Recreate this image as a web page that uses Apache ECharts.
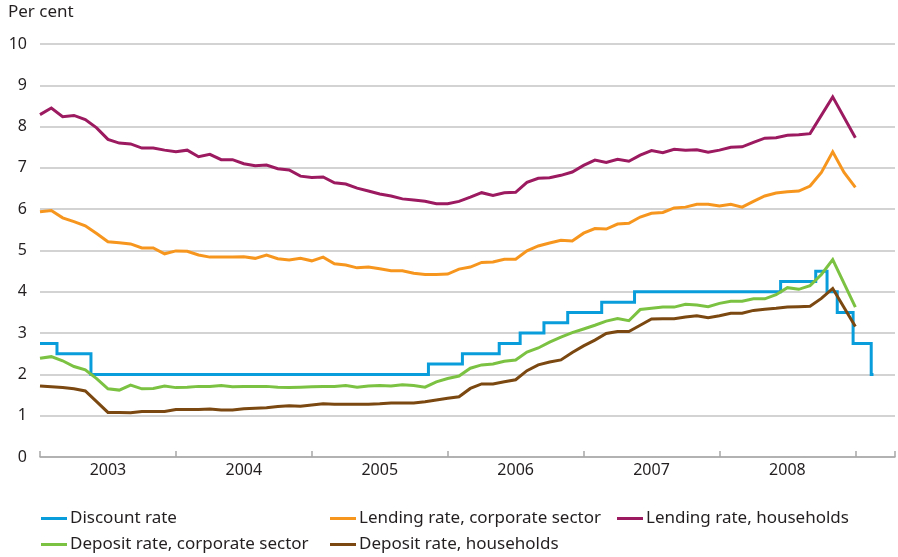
<!DOCTYPE html>
<html>
<head>
<meta charset="utf-8">
<script src="https://cdn.jsdelivr.net/npm/echarts@6/dist/echarts.min.js"></script>
<style>
  html, body { margin: 0; padding: 0; background: #fff; }
  #chart { width: 898px; height: 557px; }
</style>
</head>
<body>
<div id="chart"></div>
<script>
// month index: 0 = Jan 2003, one point per month
const months = Array.from({ length: 73 }, (_, i) => i)

const lendingHouseholds = [
  8.29, 8.45, 8.24, 8.27, 8.17, 7.97, 7.69, 7.60, 7.58, 7.48,
  7.48, 7.43, 7.39, 7.43, 7.27, 7.33, 7.20, 7.20, 7.10, 7.05,
  7.07, 6.98, 6.95, 6.80, 6.77, 6.78, 6.64, 6.61, 6.51, 6.44,
  6.37, 6.32, 6.25, 6.22, 6.19, 6.13, 6.13, 6.19, 6.29, 6.40,
  6.33, 6.40, 6.41, 6.65, 6.75, 6.76, 6.82, 6.90, 7.06, 7.19,
  7.13, 7.21, 7.16, 7.31, 7.42, 7.37, 7.45, 7.43, 7.44, 7.38,
  7.43, 7.50, 7.51, 7.62, 7.72, 7.73, 7.79, 7.80, 7.83, null,
  8.72, null, 7.73
]

const lendingCorporate = [
  5.94, 5.97, 5.79, 5.70, 5.60, 5.41, 5.21, 5.19, 5.16, 5.06,
  5.06, 4.92, 4.99, 4.98, 4.89, 4.84, 4.84, 4.84, 4.85, 4.81,
  4.89, 4.80, 4.77, 4.81, 4.75, 4.84, 4.68, 4.65, 4.58, 4.60,
  4.56, 4.51, 4.51, 4.45, 4.42, 4.42, 4.43, 4.55, 4.60, 4.71,
  4.72, 4.79, 4.79, 4.99, 5.11, 5.18, 5.25, 5.23, 5.42, 5.53,
  5.52, 5.64, 5.66, 5.81, 5.90, 5.92, 6.03, 6.05, 6.12, 6.12,
  6.08, 6.12, 6.05, 6.19, 6.32, 6.39, 6.42, 6.44, 6.56, 6.89,
  7.39, 6.89, 6.53
]

const depositCorporate = [
  2.39, 2.43, 2.33, 2.19, 2.11, 1.90, 1.65, 1.62, 1.74, 1.65,
  1.66, 1.72, 1.68, 1.69, 1.71, 1.71, 1.73, 1.70, 1.71, 1.71,
  1.71, 1.69, 1.68, 1.69, 1.70, 1.71, 1.71, 1.73, 1.69, 1.72,
  1.73, 1.72, 1.75, 1.73, 1.69, 1.82, 1.90, 1.96, 2.15, 2.23,
  2.25, 2.32, 2.35, 2.54, 2.64, 2.78, 2.90, 3.01, 3.10, 3.19,
  3.29, 3.35, 3.30, 3.57, 3.60, 3.63, 3.63, 3.70, 3.68, 3.64,
  3.72, 3.77, 3.77, 3.83, 3.83, 3.93, 4.10, 4.06, 4.15, 4.42,
  4.78, null, 3.63
]

const depositHouseholds = [
  1.72, 1.70, 1.68, 1.65, 1.60, 1.34, 1.08, 1.08, 1.07, 1.10,
  1.10, 1.10, 1.15, 1.15, 1.15, 1.16, 1.14, 1.14, 1.17, 1.18,
  1.19, 1.22, 1.24, 1.23, 1.26, 1.29, 1.28, 1.28, 1.28, 1.28,
  1.29, 1.31, 1.31, 1.31, 1.34, 1.38, 1.42, 1.46, 1.66, 1.77,
  1.77, 1.82, 1.87, 2.09, 2.23, 2.30, 2.35, 2.53, 2.69, 2.83,
  2.99, 3.04, 3.04, 3.19, 3.34, 3.35, 3.35, 3.39, 3.42, 3.37,
  3.42, 3.48, 3.48, 3.55, 3.58, 3.60, 3.63, 3.64, 3.65, 3.84,
  4.08, null, 3.16
]

// discount rate: month (fractional) at which each rate takes effect
const discountMonths = [0, 1.5, 4.5, 34.3, 37.3, 40.55, 42.4, 44.5, 46.6, 49.6, 52.5, 65.4, 68.5, 69.5, 70.4, 71.8, 73.4, 73.6]
const discountRates = [2.75, 2.5, 2.0, 2.25, 2.5, 2.75, 3.0, 3.25, 3.5, 3.75, 4.0, 4.25, 4.5, 4.0, 3.5, 2.75, 2.0, 2.0]

const years = [2003, 2004, 2005, 2006, 2007, 2008]
const yTicks = [0, 1, 2, 3, 4, 5, 6, 7, 8, 9, 10]

const FONT = "'Noto Sans', 'Open Sans', sans-serif"
const TEXT = '#231f20'

const pairs = (xs, ys) => xs.map((x, k) => [x, ys[k]]).filter(p => p[1] != null)

const lineSeries = (name, color, xs, ys, step) => ({
  name,
  type: 'line',
  xAxisIndex: 0,
  data: pairs(xs, ys),
  step: step || false,
  symbol: 'none',
  smooth: false,
  lineStyle: { color, width: 3, join: 'miter' },
  itemStyle: { color },
  emphasis: { disabled: true },
  animation: false
})

const legendBase = {
  orient: 'vertical',
  icon: 'rect',
  itemWidth: 26,
  itemHeight: 3,
  itemGap: 5,
  top: 508,
  padding: 0,
  selectedMode: false,
  textStyle: { fontFamily: FONT, fontSize: 17, color: TEXT, lineHeight: 21, padding: [0, 0, 0, -2] }
}

const chart = echarts.init(document.getElementById('chart'))

chart.setOption({
  backgroundColor: '#fff',
  textStyle: { fontFamily: FONT },
  grid: { left: 40, right: 0, top: 44, bottom: 100, containLabel: false },
  graphic: [
    {
      type: 'text',
      left: 8,
      top: 4,
      style: { text: 'Per cent', font: '17px ' + FONT, fill: TEXT }
    }
  ],
  legend: [
    Object.assign({}, legendBase, { left: 41, data: ['Discount rate', 'Deposit rate, corporate sector'] }),
    Object.assign({}, legendBase, { left: 330, data: ['Lending rate, corporate sector', 'Deposit rate, households'] }),
    Object.assign({}, legendBase, { left: 617, data: ['Lending rate, households'] })
  ],
  xAxis: [
    {
      // data axis: ticks at each new year
      type: 'value',
      min: 0,
      max: 75.5,
      interval: 12,
      position: 'bottom',
      axisLine: { show: true, lineStyle: { color: '#a8a8a8', width: 1.5 } },
      axisTick: { show: true, inside: true, length: 6, lineStyle: { color: '#a8a8a8', width: 1.5 } },
      axisLabel: { show: false },
      splitLine: { show: false }
    },
    {
      // label axis, shifted half a year: value 0 sits at mid-2003
      type: 'value',
      min: -6,
      max: 69.5,
      interval: 6,
      position: 'bottom',
      axisLine: { show: false },
      axisTick: { show: false },
      splitLine: { show: false },
      axisLabel: {
        margin: 5,
        fontFamily: FONT,
        fontSize: 16,
        color: TEXT,
        formatter: v => {
          const k = v / 12
          return Number.isInteger(k) && k >= 0 && k < years.length ? String(years[k]) : ''
        }
      }
    }
  ],
  yAxis: {
    type: 'value',
    min: yTicks[0],
    max: yTicks[yTicks.length - 1],
    interval: 1,
    axisLine: { show: false },
    axisTick: { show: false },
    axisLabel: { margin: 13, fontFamily: FONT, fontSize: 16, color: TEXT },
    splitLine: { lineStyle: { color: '#c4c4c4', width: 1.5 } }
  },
  series: [
    lineSeries('Discount rate', '#0a9ddb', discountMonths, discountRates, 'end'),
    lineSeries('Lending rate, corporate sector', '#f7961f', months, lendingCorporate),
    lineSeries('Lending rate, households', '#9b1a60', months, lendingHouseholds),
    lineSeries('Deposit rate, corporate sector', '#7cc242', months, depositCorporate),
    lineSeries('Deposit rate, households', '#7a4810', months, depositHouseholds)
  ]
})
</script>
</body>
</html>
